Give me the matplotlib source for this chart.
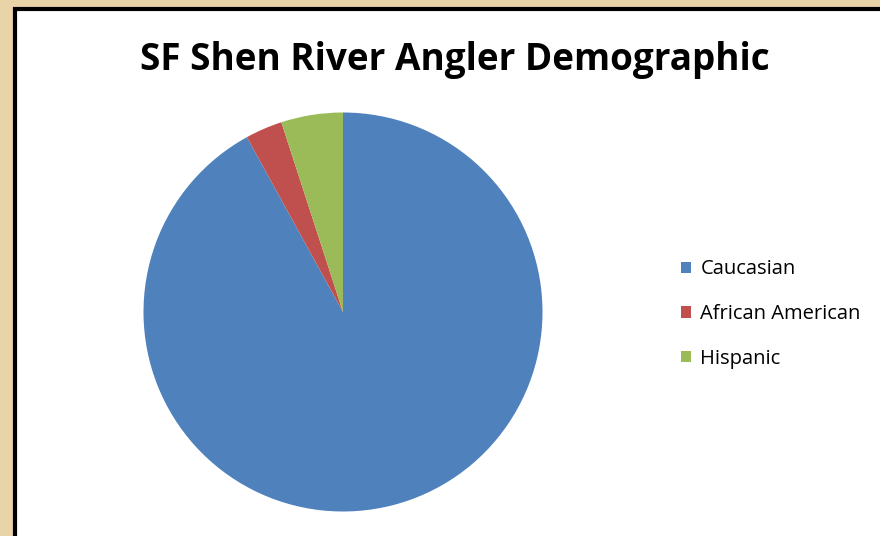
import matplotlib
matplotlib.use("Agg")
import matplotlib.pyplot as plt
from matplotlib.patches import Rectangle, Patch

labels = ["Caucasian", "African American", "Hispanic"]
values = [92, 3, 5]
colors = ["#4F81BD", "#C0504D", "#9BBB59"]
title = "SF Shen River Angler Demographic"

fig = plt.figure(figsize=(8.8, 5.36), dpi=100)
fig.patch.set_facecolor("#E8D4A8")

# white chart area with black border (runs off right/bottom)
fig.patches.append(Rectangle((14.5 / 880, -0.1), 1.2, 1 - 8.5 / 536 + 0.1,
                             transform=fig.transFigure, facecolor="white",
                             edgecolor="black", linewidth=3, zorder=-1))

ax = fig.add_axes([143.5 / 880, 24.5 / 536, 399 / 880, 399 / 536])
ax.set_zorder(1)
ax.pie(values, colors=colors, startangle=90, counterclock=False,
       wedgeprops=dict(linewidth=0))
ax.set_xlim(-1, 1)
ax.set_ylim(-1, 1)
ax.set_aspect("equal")
ax.axis("off")

fig.text(455 / 880, 1 - 60 / 536, title, ha="center", va="center",
         fontsize=26.6, fontweight="bold", family="Open Sans")

handles = [Patch(facecolor=c, edgecolor="none") for c in colors]
leg = fig.legend(handles, labels, loc="center left",
                 bbox_to_anchor=(663 / 880, 1 - 314 / 536), frameon=False,
                 prop={"family": "Open Sans", "size": 14.5}, handlelength=0.5,
                 handleheight=0.5, handletextpad=0.45, labelspacing=1.22)
leg.set_zorder(2)

fig.savefig("out.png", dpi=100, facecolor=fig.get_facecolor())
